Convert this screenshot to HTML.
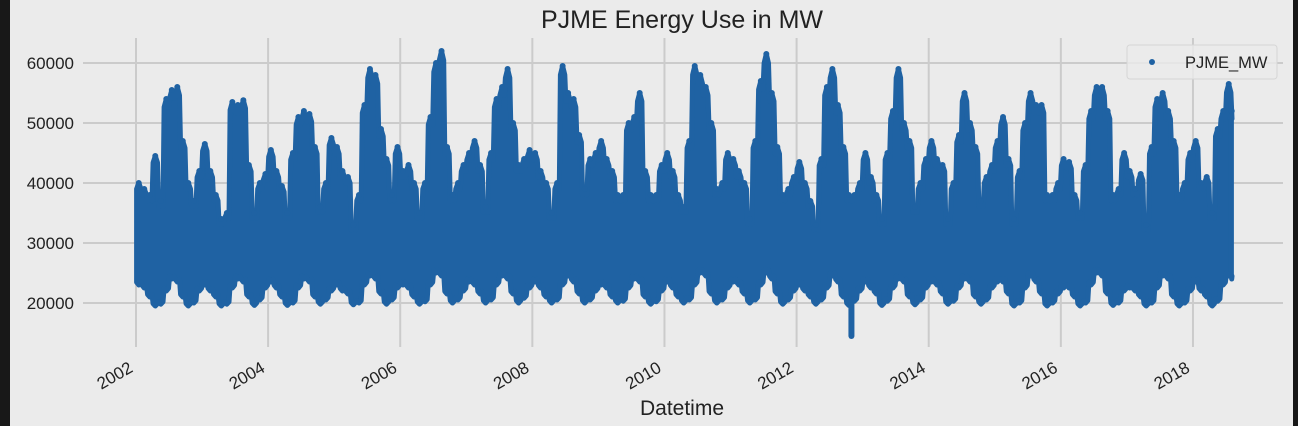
<!DOCTYPE html>
<html><head><meta charset="utf-8"><style>
body{margin:0;width:1298px;height:426px;background:#ebebeb;overflow:hidden;font-family:"Liberation Sans","DejaVu Sans",sans-serif}
svg{position:absolute;left:0;top:0}
</style></head><body>
<svg id="chart" width="1298" height="426">
<rect x="0" y="0" width="1298" height="426" fill="#ebebeb"/>
<rect x="0" y="0" width="10" height="426" fill="#181818"/>
<rect x="1293" y="0" width="5" height="426" fill="#181818"/>
<g id="grid"></g><g id="marks"></g><g id="axes"></g>
<text x="682" y="28" font-size="25" text-anchor="middle" fill="#222">PJME Energy Use in MW</text>
<text x="682" y="415" font-size="21" text-anchor="middle" fill="#222">Datetime</text>
<g>
<rect x="1127" y="45" width="150" height="34" rx="3" fill="#ebebeb" fill-opacity="0.8" stroke="#d6d6d6"/>
<circle cx="1152" cy="62" r="3" fill="#1f62a3"/>
<text x="1185" y="68" font-size="16.5" fill="#222">PJME_MW</text>
</g>
</svg>
<script>
const yTicks=[20000,30000,40000,50000,60000];
const xTicks=[2002,2004,2006,2008,2010,2012,2014,2016,2018];
const startYear=2002;
const monthMax=[
40000,39000,38000,44500,37000,54000,55500,56000,47000,40000,37000,42000,
46500,42000,38000,34000,35000,53500,53000,53800,43000,35000,40000,41500,
45500,42000,39500,35000,45000,51000,52000,51500,46000,36000,40000,47500,
46000,42000,41000,33000,38000,53000,59000,58000,49000,44000,38000,46000,
42000,43000,40000,35000,40000,51000,60000,62000,46000,38000,40000,43000,
45000,47000,43000,36000,45000,54000,56000,59000,50000,43000,44000,45500,
45000,42000,40000,35000,40000,59500,55000,54000,48000,39000,44000,45000,
47000,44000,42000,38000,38000,50000,51000,55000,42000,38000,38000,43000,
45000,42000,38000,36000,47000,59500,58000,56000,50000,39000,40000,45000,
44000,42000,40000,34000,47000,57000,61500,55000,46000,38000,39000,41000,
43500,40000,37000,33000,44000,56000,59000,53000,46000,38000,38000,40000,
45000,41000,38000,34000,45000,52000,59000,50000,47000,36000,40000,44000,
47000,44000,43000,34000,40000,48000,55000,50000,46000,37000,41000,43000,
47000,51000,44000,34000,42000,50000,55000,53000,53000,38000,38000,40000,
44000,43500,38000,35000,43000,52000,56000,56000,52000,38000,39000,45000,
42000,39000,41500,33000,46000,54000,55000,52000,47000,38000,40000,45000,
47000,40000,41000,35000,49000,52000,56500,52000];
const monthMin=[
23000,22500,21000,19500,19800,22000,24000,23500,21000,19500,20000,22000,
23000,22000,21000,19500,19800,22500,24000,23500,21000,19600,20500,22500,
23500,22500,21000,19600,20000,22500,24000,23500,21000,19800,20500,22000,
23000,22000,21500,19700,20000,23000,24500,24000,21500,19800,20500,22500,
23000,22500,21000,19800,20200,23000,25000,24500,21500,20000,20500,22000,
23500,23000,21500,20000,20500,23000,24500,24000,21500,20000,20800,22500,
23500,22500,21000,20000,20500,23000,24500,23500,21500,20000,20500,22000,
23000,22500,21000,20000,20300,22500,24000,23500,21000,19800,20200,22000,
23500,22500,21000,20000,20500,23000,25000,24500,21500,20000,20500,22500,
23500,23000,21500,20000,20500,23000,25000,24000,21500,19800,20500,22000,
23000,22000,21000,19800,20500,22500,24500,23500,21000,19600,20300,22000,
23500,22500,21500,19600,20300,22500,24000,23500,21000,19700,20500,22500,
23500,23000,21500,19800,20300,22500,24000,23500,21000,19800,20500,22500,
23500,23500,21500,19500,20000,22500,24500,23500,21500,19500,20000,21500,
22500,22500,21000,19500,20000,23000,25000,24500,21500,19600,20000,22000,
22500,22000,21000,19500,20000,22500,24500,24000,21000,19500,20000,22000,
23500,22000,21000,19500,20300,23000,24500,24000];
const outlierTime=[2012.83];
const outlierValue=[14500];
const NS='http://www.w3.org/2000/svg';
const X0=83,X1=1283,Y0=38,Y1=347;
function xs(t){return 136+(t-2002)*66.06;}
function ys(v){return 303-(v-20000)*0.006;}
const gridG=document.getElementById('grid'),axesG=document.getElementById('axes'),marksG=document.getElementById('marks');
yTicks.forEach(v=>{
 const l=document.createElementNS(NS,'line');
 l.setAttribute('x1',X0);l.setAttribute('x2',X1);l.setAttribute('y1',ys(v));l.setAttribute('y2',ys(v));
 l.setAttribute('stroke','#cbcbcb');l.setAttribute('stroke-width','2');
 
 
 gridG.appendChild(l);
 const t=document.createElementNS(NS,'text');
 t.setAttribute('x',74);t.setAttribute('y',ys(v)+6);t.setAttribute('text-anchor','end');
 t.setAttribute('font-size','17');t.setAttribute('fill','#222');t.textContent=v;
 
 
 axesG.appendChild(t);
});
xTicks.forEach(yr=>{
 const x=xs(yr);
 const l=document.createElementNS(NS,'line');
 l.setAttribute('x1',x);l.setAttribute('x2',x);l.setAttribute('y1',Y0);l.setAttribute('y2',Y1);
 l.setAttribute('stroke','#cbcbcb');l.setAttribute('stroke-width','2');
 
 
 gridG.appendChild(l);
 const t=document.createElementNS(NS,'text');
 const tx=x-2,ty=371;
 t.setAttribute('x',tx);t.setAttribute('y',ty);t.setAttribute('text-anchor','end');
 t.setAttribute('font-size','17');t.setAttribute('fill','#222');
 t.setAttribute('transform','rotate(-30 '+tx+' '+ty+')');t.textContent=yr;
 
 
 axesG.appendChild(t);
});
const nMonths=monthMax.length;
const endTime=2018.59;
const upperPts=[],lowerPts=[];
for(let i=0;i<nMonths;i++){
 const t0=startYear+i/12;
 const t1=Math.min(startYear+(i+1)/12,endTime);
 const tm=(t0+t1)/2;
 upperPts.push([xs(t0+0.1/12),ys(monthMax[i]*0.975)]);
 upperPts.push([xs(tm),ys(monthMax[i])]);
 upperPts.push([xs(t1-0.1/12),ys(monthMax[i]*0.975)]);
 lowerPts.push([xs(t0+0.1/12),ys(monthMin[i]*1.02)]);
 lowerPts.push([xs(tm),ys(monthMin[i])]);
 lowerPts.push([xs(t1-0.1/12),ys(monthMin[i]*1.02)]);
}
let dStr='M'+upperPts.map(p=>p[0].toFixed(1)+','+p[1].toFixed(1)).join('L');
dStr+='L'+lowerPts.reverse().map(p=>p[0].toFixed(1)+','+p[1].toFixed(1)).join('L')+'Z';
const seriesPath=document.createElementNS(NS,'path');
seriesPath.setAttribute('d',dStr);seriesPath.setAttribute('fill','#1f62a3');seriesPath.setAttribute('stroke','#1f62a3');
seriesPath.setAttribute('stroke-width','5');seriesPath.setAttribute('stroke-linejoin','round');


marksG.appendChild(seriesPath);
for(let i=0;i<nMonths;i++){
 const t0=startYear+i/12;
 const t1=Math.min(startYear+(i+1)/12,endTime);
 const tm=(t0+t1)/2;
 const c=document.createElementNS(NS,'circle');
 c.setAttribute('cx',xs(tm));c.setAttribute('cy',ys(monthMax[i]));c.setAttribute('r','3');c.setAttribute('fill','#1f62a3');
 
 
 marksG.appendChild(c);
}
outlierTime.forEach((t,i)=>{
 const l=document.createElementNS(NS,'line');
 l.setAttribute('x1',xs(t));l.setAttribute('x2',xs(t));
 l.setAttribute('y1',ys(20000));l.setAttribute('y2',ys(outlierValue[i]));
 l.setAttribute('stroke','#1f62a3');l.setAttribute('stroke-width','6');l.setAttribute('stroke-linecap','round');
 
 
 marksG.appendChild(l);
});
</script>
</body></html>
